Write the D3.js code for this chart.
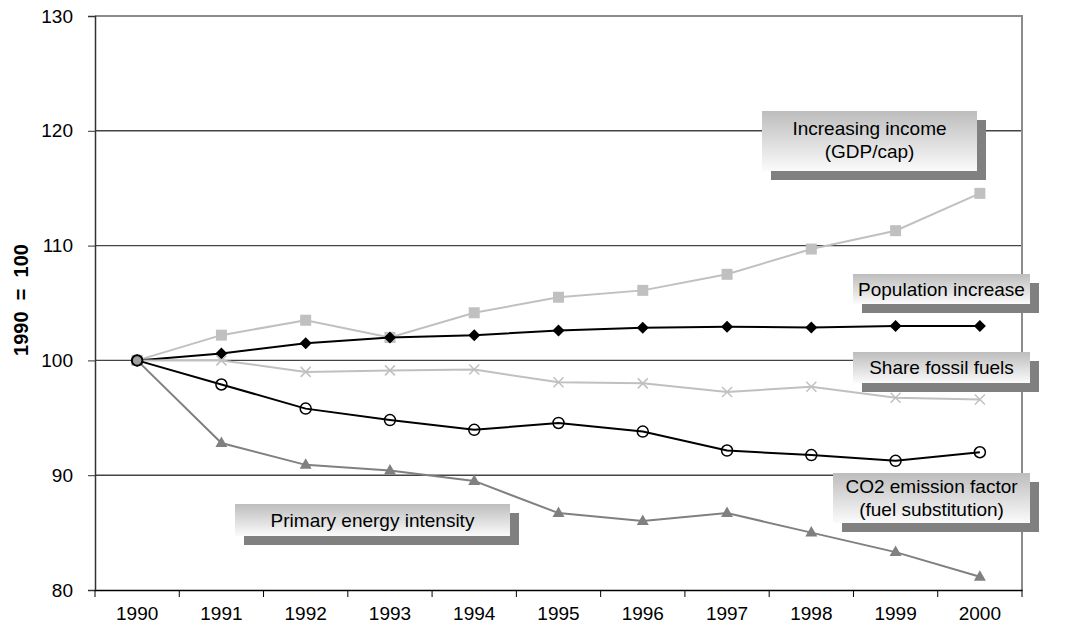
<!DOCTYPE html>
<html>
<head>
  <style>
    html, body { margin: 0; padding: 0; background: #fff; }
    svg { font-family: "Liberation Sans", Arial, sans-serif; }
    .tick text { font-size: 19px; fill: #000; }
    .note { font-size: 19px; fill: #000; text-anchor: middle; }
  </style>
</head>
<body>
  <svg id="chart" width="1067" height="630"></svg>

  <script src="https://d3js.org/d3.v7.min.js"></script>
  <script>
    // data (1990 = 100)
    const years = ["1990", "1991", "1992", "1993", "1994", "1995", "1996", "1997", "1998", "1999", "2000"];
    const income = [100, 102.2, 103.5, 102.0, 104.15, 105.5, 106.1, 107.5, 109.7, 111.3, 114.55];
    const population = [100, 100.6, 101.5, 102.0, 102.2, 102.6, 102.85, 102.93, 102.87, 103.0, 103.0];
    const shareFossil = [100, 100.0, 99.0, 99.13, 99.2, 98.1, 98.0, 97.25, 97.7, 96.75, 96.6];
    const co2Factor = [100, 97.9, 95.8, 94.8, 93.95, 94.55, 93.8, 92.15, 91.75, 91.25, 92.0];
    const primaryEnergy = [100, 92.8, 90.9, 90.4, 89.5, 86.7, 86.0, 86.7, 85.0, 83.3, 81.15];
    const yTicks = [80, 90, 100, 110, 120, 130];
    const yTitle = "1990  =  100";

    // annotation boxes (pixel layout)
    const notes = [
      { lines: ["Increasing income", "(GDP/cap)"], x: 762, y: 111, w: 215, h: 60, shift: -1 },
      { lines: ["Population increase"], x: 853, y: 274, w: 177, h: 30, shift: 0 },
      { lines: ["Share fossil fuels"], x: 853, y: 352, w: 177, h: 31, shift: 0 },
      { lines: ["CO2 emission factor", "(fuel substitution)"], x: 833, y: 473, w: 197, h: 50, shift: 0 },
      { lines: ["Primary energy intensity"], x: 235, y: 504, w: 275, h: 32, shift: 0 }
    ];

    const margin = { top: 16, right: 45, bottom: 40, left: 95 };
    const W = 1067, H = 630;
    const width = W - margin.left - margin.right;
    const height = H - margin.top - margin.bottom;

    const svg = d3.select("#chart");
    const g = svg.append("g").attr("transform", `translate(${margin.left},${margin.top})`);

    const x = d3.scaleBand().domain(years).range([0, width]).padding(0);
    const y = d3.scaleLinear().domain([80, 130]).range([height, 0]);
    const cx = d => x(d) + x.bandwidth() / 2;

    // gridlines
    g.append("g")
      .selectAll("line")
      .data(yTicks.filter(v => v > 80 && v < 130))
      .enter().append("line")
      .attr("x1", 0).attr("x2", width)
      .attr("y1", d => y(d)).attr("y2", d => y(d))
      .attr("stroke", "#444").attr("stroke-width", 1.4);

    // plot border top / right
    g.append("path")
      .attr("d", `M0,${y(130)}H${width}V${height}`)
      .attr("fill", "none").attr("stroke", "#8c8c8c").attr("stroke-width", 2);

    // y axis
    const yAxis = g.append("g")
      .call(d3.axisLeft(y).tickValues(yTicks).tickSize(7).tickPadding(15));
    yAxis.select(".domain").attr("stroke", "#333").attr("stroke-width", 1.5);
    yAxis.selectAll(".tick line").attr("stroke", "#333");

    // x axis: labels centred, ticks between categories
    const xAxis = g.append("g")
      .attr("transform", `translate(0,${height})`)
      .call(d3.axisBottom(x).tickSize(0).tickPadding(17));
    xAxis.select(".domain").attr("stroke", "#000").attr("stroke-width", 1.5);
    xAxis.selectAll(".tick text").attr("dy", "0.71em");
    xAxis.append("g")
      .selectAll("line")
      .data(years.concat(["end"]))
      .enter().append("line")
      .attr("x1", (d, i) => i * x.step()).attr("x2", (d, i) => i * x.step())
      .attr("y1", 0).attr("y2", 7)
      .attr("stroke", "#000");

    // y title
    svg.append("text")
      .attr("transform", `translate(28,300) rotate(-90)`)
      .attr("text-anchor", "middle")
      .style("font-size", "20px")
      .style("font-weight", "bold")
      .style("white-space", "pre")
      .text(yTitle);

    const line = d3.line().x((d, i) => cx(years[i])).y(d => y(d));

    function drawLine(vals, color) {
      g.append("path").datum(vals)
        .attr("d", line)
        .attr("fill", "none")
        .attr("stroke", color)
        .attr("stroke-width", 2);
    }

    // income: squares
    drawLine(income, "#c0c0c0");
    g.selectAll(".sq").data(income).enter().append("rect")
      .attr("x", (d, i) => cx(years[i]) - 5.5).attr("y", d => y(d) - 5.5)
      .attr("width", 11).attr("height", 11).attr("fill", "#c0c0c0");

    // population: diamonds
    drawLine(population, "#000");
    g.selectAll(".dm").data(population).enter().append("path")
      .attr("transform", (d, i) => `translate(${cx(years[i])},${y(d)})`)
      .attr("d", "M0,-6L6,0L0,6L-6,0Z").attr("fill", "#000");

    // share fossil: crosses
    drawLine(shareFossil, "#c0c0c0");
    g.selectAll(".cr").data(shareFossil).enter().append("path")
      .attr("transform", (d, i) => `translate(${cx(years[i])},${y(d)})`)
      .attr("d", "M-5,-5L5,5M-5,5L5,-5").attr("stroke", "#c0c0c0").attr("stroke-width", 1.5);

    // primary energy: triangles
    drawLine(primaryEnergy, "#808080");
    g.selectAll(".tr").data(primaryEnergy).enter().append("path")
      .attr("transform", (d, i) => `translate(${cx(years[i])},${y(d)})`)
      .attr("d", "M0,-6.5L6,4L-6,4Z").attr("fill", "#808080");

    // co2 factor: open circles
    drawLine(co2Factor, "#000");
    g.selectAll(".ci").data(co2Factor).enter().append("circle")
      .attr("cx", (d, i) => cx(years[i])).attr("cy", d => y(d))
      .attr("r", 5.5).attr("fill", "none").attr("stroke", "#000").attr("stroke-width", 1.5);
    g.append("circle")
      .attr("cx", cx(years[0])).attr("cy", y(co2Factor[0]))
      .attr("r", 5).attr("fill", "#a0a0a0").attr("stroke", "#000").attr("stroke-width", 1.5);

    // annotation boxes
    const grad = svg.append("defs").append("linearGradient")
      .attr("id", "boxfill").attr("x1", 0).attr("y1", 0).attr("x2", 0).attr("y2", 1);
    grad.append("stop").attr("offset", "0%").attr("stop-color", "#bdbdbd");
    grad.append("stop").attr("offset", "100%").attr("stop-color", "#fbfbfb");

    const nb = svg.append("g").selectAll("g").data(notes).enter().append("g");
    nb.append("rect")
      .attr("x", d => d.x + 9).attr("y", d => d.y + 9)
      .attr("width", d => d.w).attr("height", d => d.h)
      .attr("fill", "#808080");
    nb.append("rect")
      .attr("x", d => d.x).attr("y", d => d.y)
      .attr("width", d => d.w).attr("height", d => d.h)
      .attr("fill", "url(#boxfill)");
    nb.each(function (d) {
      const n = d.lines.length;
      d3.select(this).selectAll("text").data(d.lines).enter().append("text")
        .attr("class", "note")
        .attr("x", d.x + d.w / 2)
        .attr("y", (t, i) => d.y + d.h / 2 + d.shift + (i - (n - 1) / 2) * 23)
        .attr("dy", "0.35em")
        .text(t => t);
    });
  </script>
</body>
</html>
